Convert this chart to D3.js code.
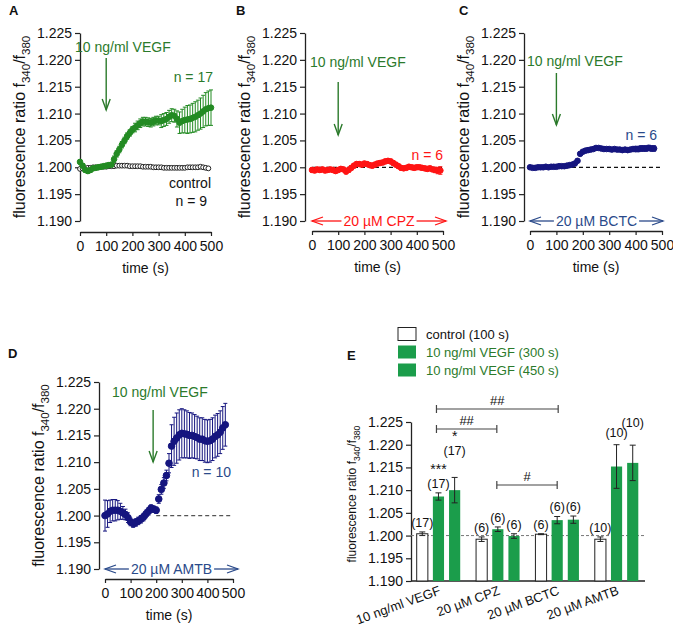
<!DOCTYPE html>
<html><head><meta charset="utf-8">
<script src="https://cdn.jsdelivr.net/npm/d3@7"></script>
<style>
body{margin:0;background:#fff}
text{font-family:"Liberation Sans",Arial,sans-serif}
</style>
</head><body>
<svg id="c" width="673" height="628"></svg>
<script>
// ---------- DATA ----------
const sampleTimes = [0,10,20,30,40,50,60,70,80,90,100,110,120,130,140,150,160,170,180,190,200,210,220,230,240,250,260,270,280,290,300,310,320,330,340,350,360,370,380,390,400,410,420,430,440,450,460,470,480,490,500];
const yTickValues = [1.190,1.195,1.200,1.205,1.210,1.215,1.220,1.225];
const xTickValues = [0,100,200,300,400,500];

// Panel A: VEGF (n = 17) and control (n = 9)
const vegfA = [1.2010,1.2003,1.1995,1.1993,1.1995,1.1998,1.1999,1.2000,1.2001,1.2002,1.2003,1.2004,1.2005,1.2015,1.2025,1.2033,1.2042,1.2050,1.2058,1.2064,1.2070,1.2074,1.2078,1.2082,1.2085,1.2085,1.2084,1.2083,1.2085,1.2087,1.2087,1.2086,1.2088,1.2090,1.2094,1.2097,1.2096,1.2090,1.2083,1.2086,1.2088,1.2089,1.2090,1.2092,1.2094,1.2097,1.2100,1.2104,1.2108,1.2110,1.2111];
const vegfAErr = [0.0004,0.0004,0.0004,0.0004,0.0004,0.0004,0.0004,0.0004,0.0004,0.0004,0.0004,0.0004,0.0004,0.0006,0.0006,0.0006,0.0006,0.0006,0.0006,0.0006,0.0006,0.0008,0.0008,0.0008,0.0008,0.0008,0.0008,0.0008,0.0008,0.0008,0.0008,0.0012,0.0012,0.0012,0.0012,0.0012,0.0012,0.0015,0.0020,0.0022,0.0024,0.0026,0.0026,0.0027,0.0028,0.0028,0.0029,0.0030,0.0031,0.0032,0.0033];
const controlA = [1.1997,1.1998,1.1998,1.1999,1.1999,1.2000,1.2000,1.2000,1.2001,1.2001,1.2001,1.2002,1.2002,1.2002,1.2003,1.2003,1.2003,1.2003,1.2003,1.2002,1.2002,1.2002,1.2002,1.2002,1.2001,1.2001,1.2001,1.2001,1.2000,1.2000,1.2000,1.2000,1.1999,1.1999,1.1999,1.1999,1.1999,1.1999,1.1999,1.1999,1.1999,1.2000,1.2000,1.2000,1.2000,1.2000,1.2001,1.2000,1.1999,1.1998];

// Panel B: CPZ (n = 6)
const cpzB = [1.1995,1.1994,1.1996,1.1995,1.1996,1.1994,1.1995,1.1996,1.1995,1.1993,1.1995,1.1997,1.1996,1.1992,1.1995,1.1999,1.2003,1.2006,1.2006,1.2005,1.2007,1.2006,1.2004,1.2003,1.2005,1.2007,1.2008,1.2009,1.2011,1.2012,1.2011,1.2008,1.2005,1.2002,1.1999,1.1998,1.1999,1.2001,1.2000,1.1999,1.2000,1.2000,1.1999,1.1998,1.1997,1.1998,1.1996,1.1995,1.1994,1.1994];
const cpzBErr = [0.0004,0.0004,0.0004,0.0004,0.0004,0.0004,0.0004,0.0004,0.0004,0.0004,0.0004,0.0004,0.0004,0.0004,0.0004,0.0004,0.0004,0.0004,0.0004,0.0004,0.0004,0.0004,0.0004,0.0004,0.0004,0.0004,0.0004,0.0004,0.0004,0.0004,0.0004,0.0004,0.0004,0.0004,0.0004,0.0004,0.0004,0.0004,0.0004,0.0004,0.0004,0.0004,0.0004,0.0004,0.0004,0.0004,0.0004,0.0005,0.0006,0.0007];

// Panel C: BCTC (n = 6)
const bctcC = [1.2000,1.1999,1.1999,1.2000,1.2000,1.2000,1.2001,1.2000,1.2001,1.2001,1.2001,1.2002,1.2002,1.2002,1.2003,1.2004,1.2005,1.2007,1.2012,1.2025,1.2029,1.2031,1.2032,1.2033,1.2034,1.2036,1.2036,1.2035,1.2034,1.2034,1.2034,1.2033,1.2034,1.2033,1.2033,1.2032,1.2033,1.2032,1.2033,1.2034,1.2034,1.2034,1.2035,1.2035,1.2035,1.2036,1.2035,1.2035];
const bctcCErr = [0.0003,0.0003,0.0003,0.0003,0.0003,0.0003,0.0003,0.0003,0.0003,0.0003,0.0003,0.0003,0.0003,0.0003,0.0003,0.0003,0.0003,0.0003,0.0003,0.0003,0.0003,0.0003,0.0003,0.0003,0.0003,0.0003,0.0003,0.0003,0.0003,0.0003,0.0003,0.0003,0.0003,0.0003,0.0003,0.0003,0.0003,0.0003,0.0003,0.0003,0.0005,0.0005,0.0005,0.0005,0.0005,0.0005,0.0005,0.0005];

// Panel D: AMTB (n = 10)
const amtbD = [1.2000,1.2003,1.2008,1.2010,1.2010,1.2010,1.2008,1.2005,1.2002,1.1996,1.1988,1.1985,1.1987,1.1990,1.1993,1.1997,1.2003,1.2008,1.2014,1.2012,1.2010,1.2031,1.2049,1.2061,1.2075,1.2098,1.2130,1.2139,1.2145,1.2151,1.2154,1.2153,1.2152,1.2150,1.2150,1.2148,1.2146,1.2143,1.2143,1.2140,1.2139,1.2140,1.2143,1.2148,1.2151,1.2156,1.2164,1.2170];
const amtbDErr = [0.0029,0.0025,0.0021,0.0020,0.0020,0.0018,0.0015,0.0012,0.0010,0.0009,0.0007,0.0007,0.0007,0.0007,0.0007,0.0007,0.0007,0.0007,0.0006,0.0006,0.0006,0.0008,0.0009,0.0010,0.0010,0.0018,0.0040,0.0045,0.0047,0.0047,0.0046,0.0045,0.0044,0.0043,0.0042,0.0041,0.0040,0.0040,0.0040,0.0040,0.0040,0.0040,0.0040,0.0040,0.0040,0.0040,0.0040,0.0040];

// Panel E: bar summary
const groupsE = ["10 ng/ml VEGF","20 µM CPZ","20 µM BCTC","20 µM AMTB"];
const seriesE = ["control (100 s)","10 ng/ml VEGF (300 s)","10 ng/ml VEGF (450 s)"];
const ctrlE = [1.2004,1.1992,1.2003,1.1992];
const v300E = [1.2086,1.2014,1.2034,1.2152];
const v450E = [1.2100,1.1999,1.2035,1.2160];
const ctrlEErr = [0.0004,0.0005,0.0001,0.0005];
const v300EErr = [0.0008,0.0005,0.0008,0.0048];
const v450EErr = [0.0028,0.0005,0.0008,0.0039];
const nE = [17,6,6,10];

// ---------- DRAW ----------
const svg = d3.select("#c");
const GREEN = "#238b23", GREEN_TXT = "#2b7a2b", RED = "#ff1414", NAVY = "#15157f", NAVY_TXT = "#2a4a8a", BAR_GREEN = "#1b9d4b";

function yLabel(g, x, y, size) {
  const t = g.append("text").attr("transform", `translate(${x},${y}) rotate(-90)`)
    .attr("text-anchor", "middle").attr("font-size", size).attr("fill", "#111");
  t.append("tspan").text("fluorescence ratio f");
  t.append("tspan").attr("dy", size*0.3).attr("font-size", size*0.72).text("340");
  t.append("tspan").attr("dy", -size*0.3).text("/f");
  t.append("tspan").attr("dy", size*0.3).attr("font-size", size*0.72).text("380");
}

function styleAxis(sel, fs) {
  sel.select(".domain").attr("stroke", "#222").attr("stroke-width", 1.3);
  sel.selectAll(".tick line").attr("stroke", "#222").attr("stroke-width", 1.2);
  sel.selectAll(".tick text").attr("font-size", fs).attr("fill", "#111")
     .attr("font-family", "Liberation Sans, Arial, sans-serif");
}

function downArrow(g, x, y1, y2, color) {
  g.append("line").attr("x1", x).attr("x2", x).attr("y1", y1).attr("y2", y2)
    .attr("stroke", color).attr("stroke-width", 1.4);
  g.append("path").attr("d", `M${x-4},${y2-11}L${x},${y2}L${x+4},${y2-11}`)
    .attr("fill", "none").attr("stroke", color).attr("stroke-width", 1.4);
}

function doubleArrow(g, x1, x2, y, label, color) {
  const t = g.append("text").attr("x", (x1+x2)/2).attr("y", y+5).attr("text-anchor", "middle")
    .attr("font-size", 14).attr("fill", color).text(label);
  const w = t.node().getComputedTextLength();
  const cx = (x1+x2)/2;
  g.append("line").attr("x1", x1).attr("x2", cx - w/2 - 2).attr("y1", y).attr("y2", y).attr("stroke", color).attr("stroke-width", 1.3);
  g.append("line").attr("x1", cx + w/2 + 2).attr("x2", x2).attr("y1", y).attr("y2", y).attr("stroke", color).attr("stroke-width", 1.3);
  g.append("path").attr("d", `M${x1+11},${y-4}L${x1},${y}L${x1+11},${y+4}`).attr("fill", "none").attr("stroke", color).attr("stroke-width", 1.3);
  g.append("path").attr("d", `M${x2-11},${y-4}L${x2},${y}L${x2-11},${y+4}`).attr("fill", "none").attr("stroke", color).attr("stroke-width", 1.3);
}

function series(g, x, y, vals, errs, color, r, fill) {
  const data = vals.map((v, i) => ({t: sampleTimes[i], v, e: errs ? errs[i] : 0}));
  if (errs) {
    const eg = g.append("g").attr("stroke", color).attr("stroke-width", 1);
    data.forEach(d => {
      if (d.e <= 0) return;
      const xx = x(d.t);
      eg.append("line").attr("x1", xx).attr("x2", xx).attr("y1", y(d.v - d.e)).attr("y2", y(d.v + d.e));
      eg.append("line").attr("x1", xx-2).attr("x2", xx+2).attr("y1", y(d.v + d.e)).attr("y2", y(d.v + d.e));
      eg.append("line").attr("x1", xx-2).attr("x2", xx+2).attr("y1", y(d.v - d.e)).attr("y2", y(d.v - d.e));
    });
  }
  g.append("g").selectAll("circle").data(data).join("circle")
    .attr("cx", d => x(d.t)).attr("cy", d => y(d.v)).attr("r", r)
    .attr("fill", fill).attr("stroke", color).attr("stroke-width", 1);
}

function timePanel(cfg) {
  const g = svg.append("g");
  const x = d3.scaleLinear().domain([0, 500]).range(cfg.xr);
  const y = d3.scaleLinear().domain([1.19, 1.225]).range(cfg.yr);
  const ya = g.append("g").attr("transform", `translate(${cfg.yx},0)`)
    .call(d3.axisLeft(y).tickValues(yTickValues).tickFormat(d3.format(".3f")).tickSize(5).tickSizeOuter(0).tickPadding(3));
  styleAxis(ya, 14);
  const xa = g.append("g").attr("transform", `translate(0,${cfg.xy})`)
    .call(d3.axisBottom(x).tickValues(xTickValues).tickSize(4).tickSizeOuter(0).tickPadding(5));
  styleAxis(xa, 14);
  g.append("text").attr("x", (cfg.xr[0]+cfg.xr[1])/2).attr("y", cfg.xy + 41).attr("text-anchor", "middle")
    .attr("font-size", 14).attr("fill", "#111").text("time (s)");
  yLabel(g, cfg.yx - 55, (cfg.yr[0]+cfg.yr[1])/2, 16);
  g.append("text").attr("x", cfg.letter[0]).attr("y", cfg.letter[1]).attr("font-size", 13)
    .attr("font-weight", "bold").attr("fill", "#111").text(cfg.name);
  return {g, x, y};
}

// Panel A
{
  const {g, x, y} = timePanel({xr:[80,211], yr:[221,33], yx:80, xy:232, name:"A", letter:[9,15]});
  series(g, x, y, controlA, null, "#222", 2.4, "#fff");
  series(g, x, y, vegfA, vegfAErr, GREEN, 2.8, GREEN);
  g.append("text").attr("x", 75).attr("y", 52).attr("font-size", 14).attr("fill", GREEN_TXT).text("10 ng/ml VEGF");
  downArrow(g, x(100), 58, 110, GREEN_TXT);
  g.append("text").attr("x", 213).attr("y", 82).attr("text-anchor", "end").attr("font-size", 14).attr("fill", GREEN_TXT).text("n = 17");
  g.append("text").attr("x", 211).attr("y", 188).attr("text-anchor", "end").attr("font-size", 14).attr("fill", "#111").text("control");
  g.append("text").attr("x", 207).attr("y", 206).attr("text-anchor", "end").attr("font-size", 14).attr("fill", "#111").text("n = 9");
}
// Panel B
{
  const {g, x, y} = timePanel({xr:[312,443], yr:[221,33], yx:305, xy:231, name:"B", letter:[236,15]});
  g.append("line").attr("x1", x(0)).attr("x2", x(500)).attr("y1", y(1.2)).attr("y2", y(1.2))
    .attr("stroke", "#111").attr("stroke-dasharray", "4,3").attr("stroke-width", 1.2);
  series(g, x, y, cpzB, cpzBErr, RED, 2.8, RED);
  g.append("text").attr("x", 310).attr("y", 67).attr("font-size", 14).attr("fill", GREEN_TXT).text("10 ng/ml VEGF");
  downArrow(g, x(100), 82, 135, GREEN_TXT);
  g.append("text").attr("x", 443).attr("y", 160).attr("text-anchor", "end").attr("font-size", 14).attr("fill", RED).text("n = 6");
  doubleArrow(g, 312, 446, 221, "20 µM CPZ", RED);
}
// Panel C
{
  const {g, x, y} = timePanel({xr:[530,662], yr:[221,33], yx:524, xy:231, name:"C", letter:[459,15]});
  g.append("line").attr("x1", x(0)).attr("x2", x(500)).attr("y1", y(1.2)).attr("y2", y(1.2))
    .attr("stroke", "#111").attr("stroke-dasharray", "4,3").attr("stroke-width", 1.2);
  series(g, x, y, bctcC, bctcCErr, NAVY, 2.8, NAVY);
  g.append("text").attr("x", 527).attr("y", 66).attr("font-size", 14).attr("fill", GREEN_TXT).text("10 ng/ml VEGF");
  downArrow(g, x(100), 73, 125, GREEN_TXT);
  g.append("text").attr("x", 657).attr("y", 140).attr("text-anchor", "end").attr("font-size", 14).attr("fill", NAVY_TXT).text("n = 6");
  doubleArrow(g, 530, 663, 221, "20 µM BCTC", NAVY_TXT);
}
// Panel D
{
  const {g, x, y} = timePanel({xr:[105,233], yr:[569,382], yx:99, xy:579, name:"D", letter:[8,358]});
  g.append("line").attr("x1", x(200)).attr("x2", x(500)).attr("y1", y(1.2)).attr("y2", y(1.2))
    .attr("stroke", "#555").attr("stroke-dasharray", "4,3").attr("stroke-width", 1.2);
  series(g, x, y, amtbD, amtbDErr, NAVY, 3.3, NAVY);
  g.append("text").attr("x", 112).attr("y", 397).attr("font-size", 14).attr("fill", GREEN_TXT).text("10 ng/ml VEGF");
  downArrow(g, x(188), 410, 462, GREEN_TXT);
  g.append("text").attr("x", 231).attr("y", 477).attr("text-anchor", "end").attr("font-size", 14).attr("fill", NAVY_TXT).text("n = 10");
  doubleArrow(g, 105, 238, 569, "20 µM AMTB", NAVY_TXT);
}

// Panel E
{
  const g = svg.append("g");
  const y = d3.scaleLinear().domain([1.19, 1.225]).range([581, 422]);
  const x0 = d3.scaleBand().domain(groupsE).range([411, 644]).paddingInner(0.267).paddingOuter(0.096);
  const x1 = d3.scaleBand().domain(seriesE).range([0, x0.bandwidth()]).paddingInner(0.31).paddingOuter(0);
  const vals = [ctrlE, v300E, v450E], errs = [ctrlEErr, v300EErr, v450EErr];
  const bars = [];
  groupsE.forEach((gr, gi) => seriesE.forEach((s, si) => bars.push({gr, s, gi, si, v: vals[si][gi], e: errs[si][gi], n: nE[gi]})));

  const ya = g.append("g").attr("transform", "translate(411,0)")
    .call(d3.axisLeft(y).tickValues(yTickValues).tickFormat(d3.format(".3f")).tickSize(5).tickSizeOuter(0).tickPadding(3));
  styleAxis(ya, 14);
  g.append("line").attr("x1", 411).attr("x2", 645).attr("y1", 581).attr("y2", 581).attr("stroke", "#222").attr("stroke-width", 1.3);
  g.append("line").attr("x1", 411).attr("x2", 645).attr("y1", y(1.2)).attr("y2", y(1.2))
    .attr("stroke", "#777").attr("stroke-dasharray", "3,2").attr("stroke-width", 1);

  g.selectAll("rect.bar").data(bars).join("rect").attr("class", "bar")
    .attr("x", d => x0(d.gr) + x1(d.s)).attr("width", x1.bandwidth())
    .attr("y", d => y(d.v)).attr("height", d => y(1.19) - y(d.v))
    .attr("fill", d => d.si === 0 ? "#fff" : BAR_GREEN)
    .attr("stroke", d => d.si === 0 ? "#222" : "none").attr("stroke-width", 1);
  bars.forEach(d => {
    const cx = x0(d.gr) + x1(d.s) + x1.bandwidth()/2;
    const yt = y(d.v + d.e), yb = y(d.v - d.e);
    g.append("line").attr("x1", cx).attr("x2", cx).attr("y1", yt).attr("y2", yb).attr("stroke", "#222").attr("stroke-width", 1);
    [yt, yb].forEach(yy => g.append("line").attr("x1", cx-3).attr("x2", cx+3).attr("y1", yy).attr("y2", yy).attr("stroke", "#222").attr("stroke-width", 1));
    let extra = 0;
    if (d.gi === 0 && d.si === 2) extra = 17;
    if (d.gi === 3 && d.si === 2) extra = 13;
    if (d.gi === 3 && d.si === 1) extra = 3;
    g.append("text").attr("x", cx).attr("y", yt - 5 - extra).attr("text-anchor", "middle")
      .attr("font-size", 12.5).attr("fill", "#111").text(`(${d.n})`);
  });
  // significance marks
  const cOf = (gi, si) => x0(groupsE[gi]) + x1(seriesE[si]) + x1.bandwidth()/2;
  g.append("text").attr("x", cOf(0,1)).attr("y", 474).attr("text-anchor", "middle").attr("font-size", 14).attr("fill", "#111").text("***");
  g.append("text").attr("x", cOf(0,2)).attr("y", 441).attr("text-anchor", "middle").attr("font-size", 14).attr("fill", "#111").text("*");
  function bracket(xa, xb, yy, label) {
    g.append("line").attr("x1", xa).attr("x2", xb).attr("y1", yy).attr("y2", yy).attr("stroke", "#444").attr("stroke-width", 1.2);
    [xa, xb].forEach(xx => g.append("line").attr("x1", xx).attr("x2", xx).attr("y1", yy-4).attr("y2", yy+4).attr("stroke", "#444").attr("stroke-width", 1.2));
    g.append("text").attr("x", (xa+xb)/2).attr("y", yy - 4).attr("text-anchor", "middle").attr("font-size", 13).attr("fill", "#111").text(label);
  }
  bracket(cOf(0,1)-2, cOf(2,1)+1, 409, "##");
  bracket(cOf(0,1)-2, cOf(1,1)-1, 429, "##");
  bracket(cOf(1,1)-1, cOf(2,1), 485, "#");

  // category labels
  groupsE.forEach(gr => {
    g.append("text").attr("transform", `translate(${x0(gr) + x0.bandwidth()/2 + 3},${594}) rotate(-20)`)
      .attr("text-anchor", "end").attr("font-size", 13).attr("fill", "#111").text(gr);
  });
  yLabel(g, 356, 494, 12);
  g.append("text").attr("x", 347).attr("y", 360).attr("font-size", 13).attr("font-weight", "bold").attr("fill", "#111").text("E");

  // legend
  const lg = g.append("g");
  seriesE.forEach((s, i) => {
    const yy = 334 + i*18;
    lg.append("rect").attr("x", 398).attr("y", yy - 6.5).attr("width", 18).attr("height", 13)
      .attr("fill", i === 0 ? "#fff" : BAR_GREEN).attr("stroke", i === 0 ? "#222" : "none");
    lg.append("text").attr("x", 426).attr("y", yy + 5).attr("font-size", 13).attr("fill", i === 0 ? "#111" : GREEN_TXT).text(s);
  });
}
</script>
</body></html>
